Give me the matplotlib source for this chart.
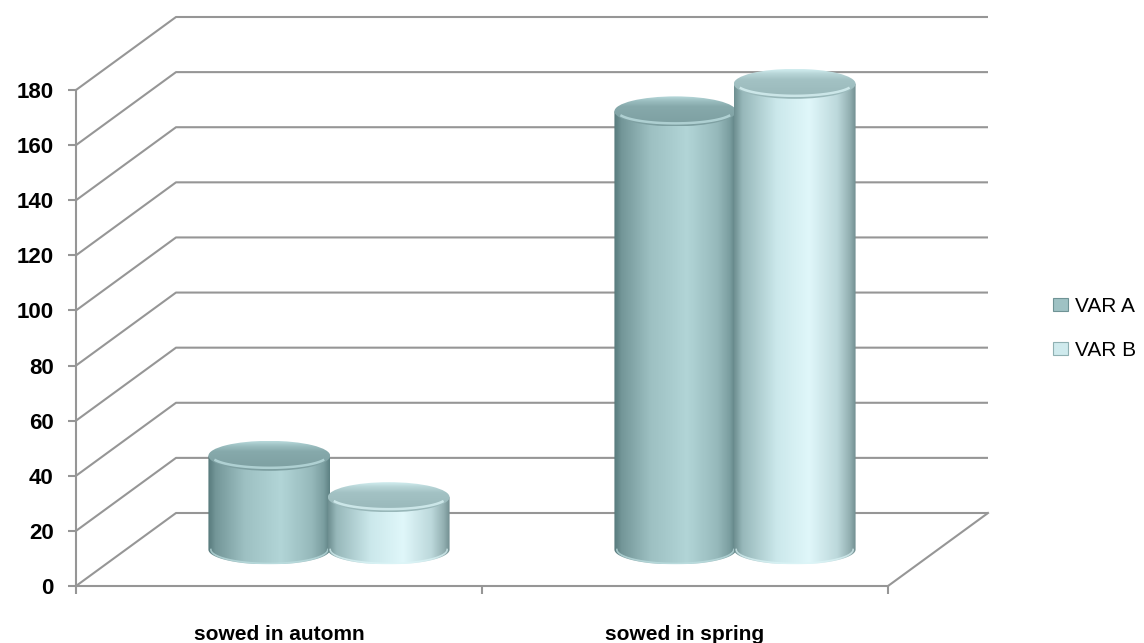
import numpy as np
import matplotlib
matplotlib.use("Agg")
import matplotlib.pyplot as plt
from matplotlib.colors import LinearSegmentedColormap
from matplotlib.patches import Ellipse, PathPatch, Patch
from matplotlib.path import Path

categories = ["sowed in automn", "sowed in spring"]
series = ["VAR A", "VAR B"]
var_a = [34, 159]
var_b = [19, 169]
y_ticks = list(range(0, 181, 20))

W, H, DPI = 1144, 643, 100
GRID = "#969696"
plt.rcParams["font.family"] = ["Liberation Sans", "DejaVu Sans"]

fig = plt.figure(figsize=(W / DPI, H / DPI), dpi=DPI)
ax = fig.add_axes([76 / W, 1 - 586 / H, 812 / W, 496 / H])

# oblique depth of the plot box, in data units
PX_X = 812 / 2
PX_Y = 496 / 180
DX = 100 / PX_X
DY = 73 / PX_Y
BAR_W = 0.30
OFFS = 0.147
RY = 15 / PX_Y

# back wall + side wall gridlines
for v in y_ticks:
    ax.plot([0, DX, 2 + DX], [v, v + DY, v + DY], color=GRID, lw=1.5,
            clip_on=False, zorder=1, solid_capstyle="butt")
ax.plot([2, 2 + DX], [0, DY], color=GRID, lw=1.5, clip_on=False, zorder=1)

body_maps = [
    LinearSegmentedColormap.from_list("a_body", [(0, "#56797b"), (0.06, "#739698"), (0.3, "#9dc0c2"),
                                                 (0.6, "#b2d5d7"), (0.85, "#96b9bb"), (0.95, "#7b9ea0"),
                                                 (1, "#5d8183")]),
    LinearSegmentedColormap.from_list("b_body", [(0, "#6e8f91"), (0.07, "#97b8ba"), (0.35, "#cbe8eb"),
                                                 (0.62, "#e0f7fa"), (0.85, "#bcd8db"), (0.95, "#93b0b2"),
                                                 (1, "#728f91")]),
]
top_maps = [
    LinearSegmentedColormap.from_list("a_top", [(0, "#7d9fa1"), (0.65, "#86a9ab"), (0.85, "#9cbfc1"),
                                                (1, "#b8dadc")]),
    LinearSegmentedColormap.from_list("b_top", [(0, "#98b7b9"), (0.65, "#a3c2c4"), (0.85, "#b8d6d8"),
                                                (1, "#d2eef0")]),
]
rims = ["#bfe0e2", "#dcf5f7"]


def clip_image(img, patch):
    img.set_clip_path(patch)
    img.set_clip_box(fig.bbox)


def cylinder(xc, value, k, z):
    half = BAR_W / 2
    base = DY / 2
    top = value + DY / 2
    t = np.linspace(0, np.pi, 80)
    verts = [(xc - half, base), (xc - half, top), (xc + half, top), (xc + half, base)]
    verts += list(zip(xc + half * np.cos(t), base - RY * np.sin(t)))
    body = PathPatch(Path(verts + [verts[0]]), transform=ax.transData, fc="none", ec="none")
    grad = np.linspace(0, 1, 256)[None, :]
    im = ax.imshow(grad, cmap=body_maps[k], extent=[xc - half, xc + half, base - RY, top],
                   aspect="auto", interpolation="bicubic", zorder=z)
    clip_image(im, body)
    # light edge along the bottom of the cylinder
    ax.plot(xc + half * 0.96 * np.cos(t), base - RY * 0.93 * np.sin(t), color=rims[k],
            lw=1.2, alpha=0.7, clip_on=False, zorder=z + 0.1)

    lid = Ellipse((xc, top), 2 * half, 2 * RY, transform=ax.transData, fc="none", ec="none")
    vgrad = np.linspace(1, 0, 128)[:, None]
    im2 = ax.imshow(vgrad, cmap=top_maps[k], extent=[xc - half, xc + half, top - RY, top + RY],
                    aspect="auto", interpolation="bicubic", zorder=z + 0.2)
    clip_image(im2, lid)
    # soft bevel highlight on the front edge of the lid
    tt = np.linspace(0.12 * np.pi, 0.88 * np.pi, 60)
    ax.plot(xc + half * 0.95 * np.cos(tt), top - RY * 0.8 * np.sin(tt), color=rims[k],
            lw=1.8, alpha=0.75, clip_on=False, zorder=z + 0.3)


for i in range(len(categories)):
    xc = i + 0.5 + DX / 2
    cylinder(xc - OFFS, var_a[i], 0, 3 + i)
    cylinder(xc + OFFS, var_b[i], 1, 3.5 + i)

ax.set_xlim(0, 2)
ax.set_ylim(0, 180)
ax.set_facecolor("none")
for s in ["top", "right"]:
    ax.spines[s].set_visible(False)
for s in ["left", "bottom"]:
    ax.spines[s].set_color(GRID)
    ax.spines[s].set_linewidth(1.5)

ax.set_yticks(y_ticks)
ax.set_yticklabels([str(v) for v in y_ticks], fontsize=16, fontweight="bold")
ax.set_xticks([0, 1, 2])
ax.set_xticklabels([])
ax.set_xticks([0.5, 1.5], minor=True)
ax.set_xticklabels(categories, minor=True, fontsize=15, fontweight="bold")
ax.tick_params(axis="both", which="major", direction="out", length=6, width=1.5, color=GRID)
ax.tick_params(axis="y", pad=10)
ax.tick_params(axis="x", which="minor", length=0, pad=28)

handles = [Patch(facecolor="#9fc2c4", edgecolor="#6f9395", lw=0.8),
           Patch(facecolor="#cfeaed", edgecolor="#8fb0b2", lw=0.8)]
fig.legend(handles, series, loc="center left", bbox_to_anchor=(1053 / W, 1 - 328 / H),
           frameon=False, fontsize=15, handlelength=0.7, handleheight=0.6,
           handletextpad=0.35, labelspacing=1.2, borderpad=0, borderaxespad=0)

fig.savefig("out.png", dpi=DPI)
